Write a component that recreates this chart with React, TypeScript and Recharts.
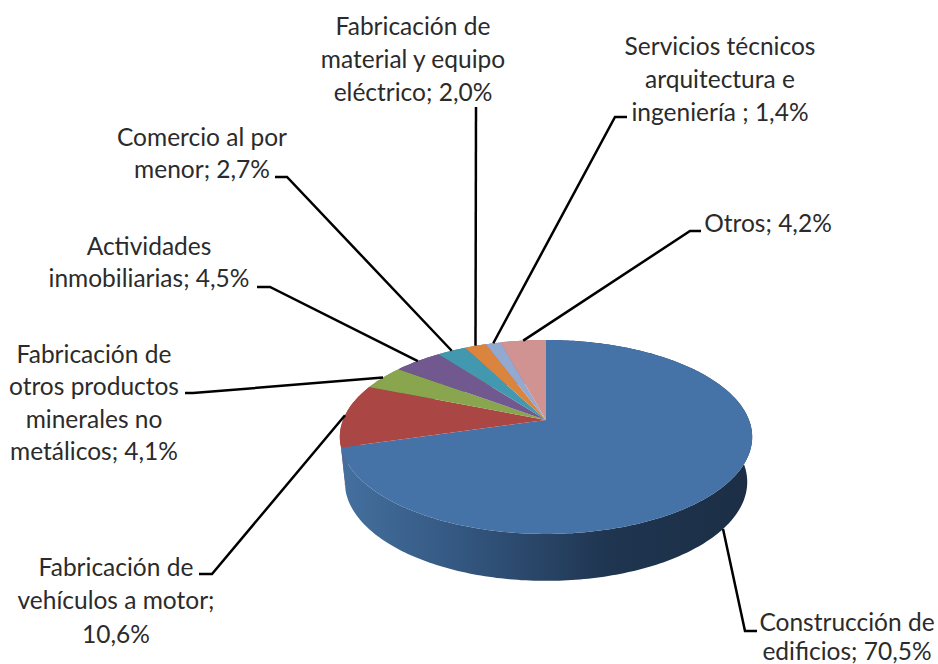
import React from 'react';
import { PieChart, Pie } from 'recharts';

const categories = [
  'Construcción de edificios',
  'Fabricación de vehículos a motor',
  'Fabricación de otros productos minerales no metálicos',
  'Actividades inmobiliarias',
  'Comercio al por menor',
  'Fabricación de material y equipo eléctrico',
  'Servicios técnicos arquitectura e ingeniería',
  'Otros',
];
const values = [70.5, 10.6, 4.1, 4.5, 2.7, 2.0, 1.4, 4.2];
const labelLines = [
  ['Construcción de', 'edificios; 70,5%'],
  ['Fabricación de', 'vehículos a motor;', '10,6%'],
  ['Fabricación de', 'otros productos', 'minerales no', 'metálicos; 4,1%'],
  ['Actividades', 'inmobiliarias; 4,5%'],
  ['Comercio al por', 'menor; 2,7%'],
  ['Fabricación de', 'material y equipo', 'eléctrico; 2,0%'],
  ['Servicios técnicos', 'arquitectura e', 'ingeniería ; 1,4%'],
  ['Otros; 4,2%'],
];
const COLORS = ['#4572A7', '#AA4643', '#89A54E', '#71588F', '#4198AF', '#DB843D', '#93A9CF', '#D19392'];
const WALLS = ['url(#blueWall)', '#a5504d', '#6d8540', '#5a4672', '#34798c', '#b06a30', '#7587a6', '#a77574'];

// label placement: centre x / baseline y per line, then the leader's elbow and end
const LABEL_LAYOUT = [
  { x: 847, ys: [631, 660], leader: [[745, 631], [757, 631]] },
  { x: 116, ys: [576, 609, 643], leader: [[212, 574], [199, 574]] },
  { x: 94, ys: [363, 395, 428, 460], leader: [[193, 393], [185, 393]] },
  { x: 149, ys: [255, 287], leader: [[270, 287], [257, 287]] },
  { x: 202, ys: [146, 178], leader: [[287, 177], [275, 177]] },
  { x: 413, ys: [35, 68, 101], leader: [[476, 107]] },
  { x: 720, ys: [55, 88, 121], leader: [[615, 117], [627, 117]] },
  { x: 768, ys: [232], leader: [[690, 231], [701, 231]] },
];

const rows = categories.map((name, i) => ({ name, value: values[i], fill: COLORS[i], wall: WALLS[i] }));

const PERSPECTIVE = -0.175;
const SQUASH = 0.463;
const DEPTH = 62;

// circle angle -> point on the tilted top face
const project = (angle: number, r: number, cx: number, cy: number) => {
  const rad = (angle * Math.PI) / 180;
  const u = Math.cos(rad);
  const v = -Math.sin(rad);
  const d = 1 + PERSPECTIVE * v;
  return [cx + (r * u) / d, cy + (r * SQUASH * v) / d];
};

// same point on the lower rim
const lower = (p: number[], cx: number, cy: number) => [
  cx + 0.976 * (p[0] - cx),
  cy + DEPTH + 1.02 * (p[1] - cy - 17),
];

const arc = (from: number, to: number, r: number, cx: number, cy: number) => {
  const n = Math.max(2, Math.ceil(Math.abs(to - from)));
  const pts = [];
  for (let i = 0; i <= n; i++) pts.push(project(from + ((to - from) * i) / n, r, cx, cy));
  return pts;
};

const toPath = (pts: number[][]) => 'M' + pts.map((p) => `${p[0].toFixed(2)},${p[1].toFixed(2)}`).join('L') + 'Z';

const TopFace = (props: any) => {
  const { cx, cy, outerRadius, startAngle, endAngle, fill } = props;
  const pts = [[cx, cy], ...arc(startAngle, endAngle, outerRadius, cx, cy)];
  return <path d={toPath(pts)} fill={fill} stroke="none" />;
};

const WallFace = (props: any) => {
  const { cx, cy, outerRadius, startAngle, endAngle, payload, wall } = props;
  const top = arc(startAngle, endAngle, outerRadius, cx, cy);
  const bottom = top.map((p) => lower(p, cx, cy)).reverse();
  return <path d={toPath([...top, ...bottom])} fill={wall ?? payload?.wall} stroke="none" />;
};

// the big slice's wall has to sit over its neighbour's, so it gets its own pass
const SmallWall = (props: any) => (props.index === 0 ? <g /> : <WallFace {...props} />);
const BigWall = (props: any) => (props.index === 0 ? <WallFace {...props} /> : <g />);

const renderLabel = (props: any) => {
  const { cx, cy, outerRadius, midAngle, index } = props;
  const layout = LABEL_LAYOUT[index];
  let start = project(midAngle, outerRadius, cx, cy);
  // the big slice's leader leaves from the lower rim
  if (index === 0) start = lower(start, cx, cy);
  const pts = [start, ...layout.leader].map((p) => p.join(',')).join(' ');
  return (
    <g key={`label-${index}`}>
      <polyline points={pts} fill="none" stroke="#000" strokeWidth={2.5} />
      {labelLines[index].map((line, i) => (
        <text
          key={i}
          x={layout.x}
          y={layout.ys[i]}
          textAnchor="middle"
          fill="#2b2b2b"
          fontFamily="Lato"
          fontSize={24.5}
        >
          {line}
        </text>
      ))}
    </g>
  );
};

const pieProps = {
  data: rows,
  dataKey: 'value',
  cx: 546,
  cy: 420,
  outerRadius: 203,
  startAngle: 90,
  endAngle: -270,
  stroke: 'none',
  labelLine: false,
  isAnimationActive: false,
};

export default function App() {
  return (
    <div style={{ position: 'fixed', left: 0, top: 0, width: 938, height: 664, background: '#fff', overflow: 'hidden' }}>
      <PieChart width={938} height={664} margin={{ top: 0, right: 0, bottom: 0, left: 0 }}>
        <defs>
          <linearGradient id="blueWall" x1="0" y1="0" x2="1" y2="0">
            <stop offset="0%" stopColor="#44709f" />
            <stop offset="30%" stopColor="#33567f" />
            <stop offset="65%" stopColor="#1f3550" />
            <stop offset="100%" stopColor="#1b2e45" />
          </linearGradient>
        </defs>
        <Pie {...pieProps} shape={SmallWall} label={false} isAnimationActive={false} />
        <Pie {...pieProps} shape={BigWall} label={false} isAnimationActive={false} />
        <Pie {...pieProps} shape={TopFace} label={renderLabel} isAnimationActive={false} />
      </PieChart>
    </div>
  );
}
